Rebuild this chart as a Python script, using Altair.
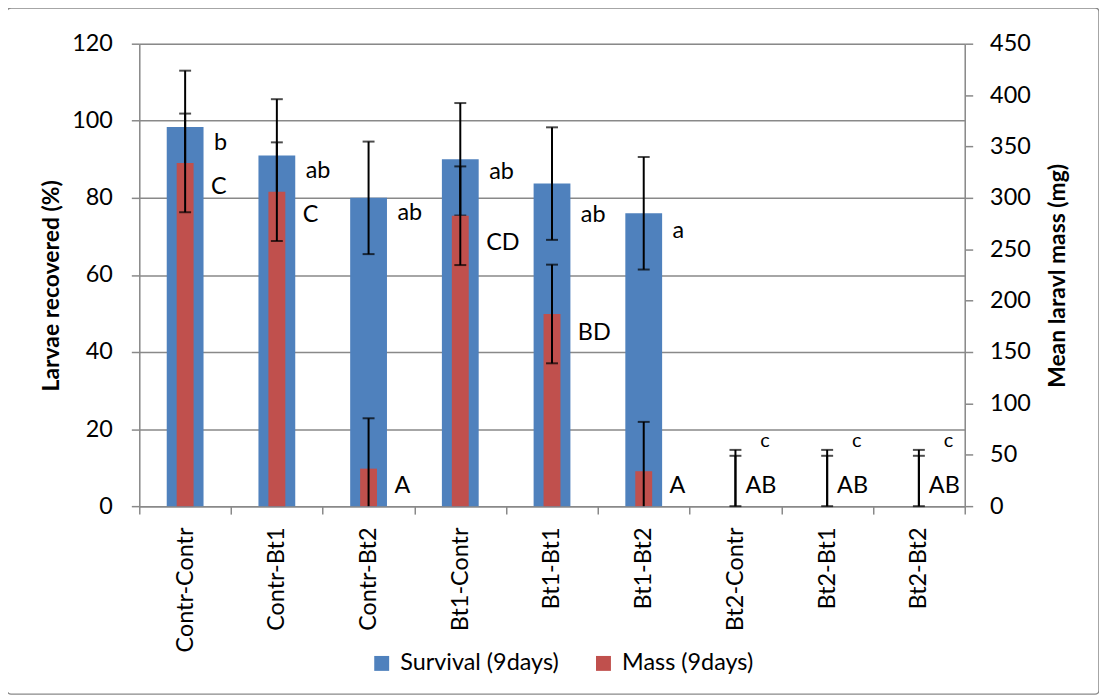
import altair as alt
import pandas as pd

categories = ["Contr-Contr", "Contr-Bt1", "Contr-Bt2", "Bt1-Contr", "Bt1-Bt1",
              "Bt1-Bt2", "Bt2-Contr", "Bt2-Bt1", "Bt2-Bt2"]
survival = [98.4, 91.0, 80.0, 90.0, 83.7, 76.0, 0, 0, 0]
survival_err = [14.6, 14.6, 14.6, 14.6, 14.6, 14.6, 14.6, 14.6, 14.6]
mass = [334, 306, 36.5, 282.6, 187, 34, 0, 0, 0]
mass_err = [48, 48, 49, 48, 48, 48, 49, 49, 49]
survival_letters = ["b", "ab", "ab", "ab", "ab", "a", "c", "c", "c"]
survival_letter_y = [94.3, 87.0, 76.1, 86.8, 75.6, 71.5, 16.9, 16.9, 16.9]
mass_letters = ["C", "C", "A", "CD", "BD", "A", "AB", "AB", "AB"]
mass_letter_y = [82.8, 75.6, 5.2, 68.4, 44.8, 5.2, 5.2, 5.2, 5.2]
series_names = ["Survival (9days)", "Mass (9days)"]
series_colors = ["#4F81BD", "#C0504D"]

FONT = "Lato"
GRAY = "#898989"
FS = 23.5
TFS = 23

df = pd.DataFrame({
    "cat": categories,
    "surv": survival,
    "surv_lo": [max(0, s - e) for s, e in zip(survival, survival_err)],
    "surv_hi": [s + e for s, e in zip(survival, survival_err)],
    "mass": mass,
    "mass_lo": [max(0, m - e) for m, e in zip(mass, mass_err)],
    "mass_hi": [m + e for m, e in zip(mass, mass_err)],
    "sl": survival_letters,
    "sly": survival_letter_y,
    "ml": mass_letters,
    "mly": mass_letter_y,
    "s_series": series_names[0],
    "m_series": series_names[1],
})
df["grp"] = ["main"] * 6 + ["zero"] * 3

xenc = alt.X("cat:N", sort=categories,
             scale=alt.Scale(paddingInner=0, paddingOuter=0),
             axis=alt.Axis(title=None, labelAngle=-90, tickBand="extent",
                           tickSize=8, tickColor=GRAY, tickWidth=1.5,
                           domainColor=GRAY, domainWidth=1.5,
                           labelFont=FONT, labelFontSize=FS, labelColor="black",
                           labelPadding=13, grid=False, labelLimit=300))

color = alt.Color("series:N",
                  scale=alt.Scale(domain=series_names, range=series_colors),
                  legend=alt.Legend(title=None, orient="none", direction="horizontal",
                                    legendX=232, legendY=611, padding=0,
                                    symbolType="square", symbolSize=225,
                                    symbolStrokeWidth=0, labelFont=FONT,
                                    labelFontSize=FS, labelColor="black",
                                    labelOffset=7, columnPadding=33,
                                    labelLimit=400))

yleft_scale = alt.Scale(domain=[0, 120], nice=False)
yleft_axis = alt.Axis(title="Larvae recovered (%)", values=[0, 20, 40, 60, 80, 100, 120],
                      grid=True, gridColor=GRAY, gridWidth=1.5,
                      domainColor=GRAY, domainWidth=1.5, tickColor=GRAY,
                      tickWidth=1.5, tickSize=8, labelPadding=19,
                      labelFont=FONT, labelFontSize=FS, labelColor="black",
                      titleFont=FONT, titleFontSize=TFS, titleFontWeight="bold",
                      titleColor="black", titleAngle=270, titleX=-88, titleY=243,
                      titleAlign="center", titleBaseline="middle")

base = alt.Chart(df)

blue_bars = base.mark_bar(size=37).encode(
    x=xenc,
    y=alt.Y("surv:Q", scale=yleft_scale, axis=yleft_axis),
    color=color,
).transform_calculate(series="datum.s_series")
blue_rule = base.mark_rule(color="black", strokeWidth=2).encode(
    x=alt.X("cat:N", sort=categories), y="surv_lo:Q", y2="surv_hi:Q")
blue_cap_hi = base.mark_tick(color="black", size=12, thickness=2).encode(
    x=alt.X("cat:N", sort=categories), y="surv_hi:Q")
blue_cap_lo = base.mark_tick(color="black", size=12, thickness=2).encode(
    x=alt.X("cat:N", sort=categories), y="surv_lo:Q")
left = alt.layer(blue_bars, blue_rule, blue_cap_hi, blue_cap_lo)

yright_scale = alt.Scale(domain=[0, 450], nice=False)
yright_axis = alt.Axis(orient="right", title="Mean laravl mass (mg)",
                       values=[0, 50, 100, 150, 200, 250, 300, 350, 400, 450],
                       grid=False, domainColor=GRAY, domainWidth=1.5,
                       tickColor=GRAY, tickWidth=1.5, tickSize=8, labelPadding=17,
                       labelFont=FONT, labelFontSize=FS, labelColor="black",
                       titleFont=FONT, titleFontSize=TFS, titleFontWeight="bold",
                       titleColor="black", titleAngle=270, titleX=93, titleY=233,
                       titleAlign="center", titleBaseline="middle")

red_bars = base.mark_bar(size=17).encode(
    x=alt.X("cat:N", sort=categories),
    y=alt.Y("mass:Q", scale=yright_scale, axis=yright_axis),
    color=color,
).transform_calculate(series="datum.m_series")
red_rule = base.mark_rule(color="black", strokeWidth=2).encode(
    x=alt.X("cat:N", sort=categories), y="mass_lo:Q", y2="mass_hi:Q")
red_cap_hi = base.mark_tick(color="black", size=12, thickness=2).encode(
    x=alt.X("cat:N", sort=categories), y="mass_hi:Q")
red_cap_lo = base.mark_tick(color="black", size=12, thickness=2).encode(
    x=alt.X("cat:N", sort=categories), y="mass_lo:Q").transform_filter("datum.mass_lo > 0")
right = alt.layer(red_bars, red_rule, red_cap_hi, red_cap_lo)

ytext = lambda f: alt.Y(f, scale=alt.Scale(domain=[0, 120], nice=False), axis=None)
txt_s_main = base.mark_text(align="left", baseline="middle", dx=29, font=FONT,
                            fontSize=FS, color="black").encode(
    x=alt.X("cat:N", sort=categories), y=ytext("sly:Q"), text="sl:N"
).transform_filter("datum.grp == 'main'")
txt_s_zero = base.mark_text(align="left", baseline="middle", dx=25, font=FONT,
                            fontSize=20, color="black").encode(
    x=alt.X("cat:N", sort=categories), y=ytext("sly:Q"), text="sl:N"
).transform_filter("datum.grp == 'zero'")
txt_m_main = base.mark_text(align="left", baseline="middle", dx=26, font=FONT,
                            fontSize=FS, color="black").encode(
    x=alt.X("cat:N", sort=categories), y=ytext("mly:Q"), text="ml:N"
).transform_filter("datum.grp == 'main'")
txt_m_zero = base.mark_text(align="left", baseline="middle", dx=10, font=FONT,
                            fontSize=FS, color="black").encode(
    x=alt.X("cat:N", sort=categories), y=ytext("mly:Q"), text="ml:N"
).transform_filter("datum.grp == 'zero'")
frame = alt.Chart(pd.DataFrame({"k": [0]})).mark_rect(
    fill=None, stroke=GRAY, strokeWidth=1.5, cornerRadius=4).encode(
    x=alt.value(-133), x2=alt.value(965), y=alt.value(-36), y2=alt.value(654))
texts = alt.layer(txt_s_main, txt_s_zero, txt_m_main, txt_m_zero, frame)

chart = alt.layer(left, right, texts).resolve_scale(y="independent").properties(
    width=830, height=465,
    padding={"left": 132, "top": 34, "right": 135, "bottom": 190},
    autosize=alt.AutoSizeParams(type="none"),
).configure_view(stroke=None).configure(background="white")

chart.save("out.html", embed_options={"renderer": "svg", "actions": False})
